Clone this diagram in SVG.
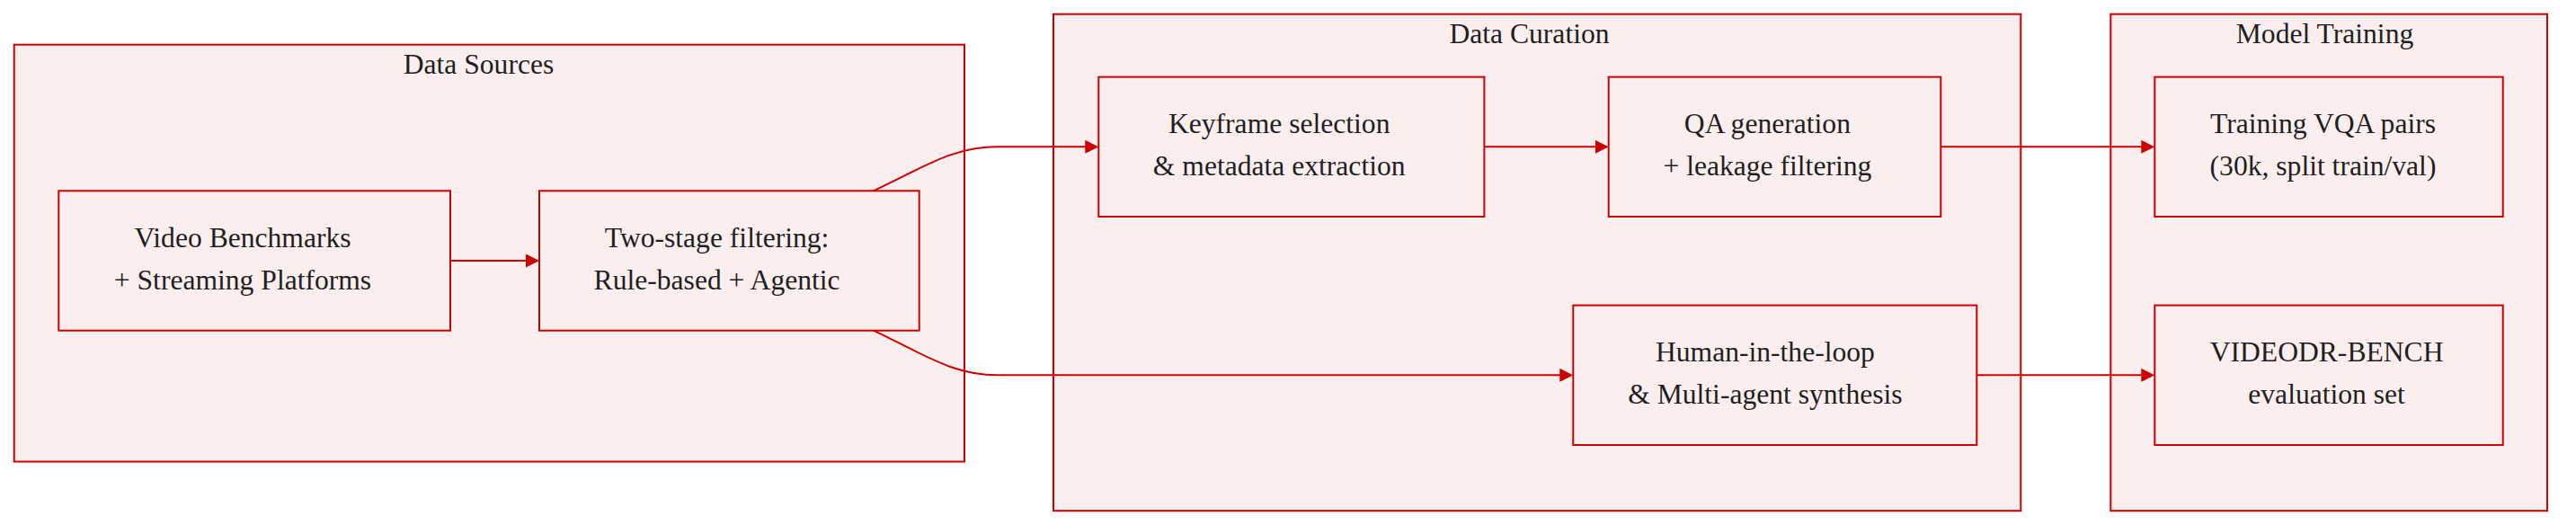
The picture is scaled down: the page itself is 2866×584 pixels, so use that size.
<svg xmlns="http://www.w3.org/2000/svg" width="2866" height="584" viewBox="0 0 2866 584">
<style>
.cluster rect{fill:#fbeeee;stroke:#cc0000;stroke-width:2}
.node rect{fill:#fbeeee;stroke:#cc0000;stroke-width:2}
text{font-family:"Liberation Serif","Times New Roman",serif;font-size:31.6px;fill:#1f1f1f;text-anchor:middle}
.edge{fill:none;stroke:#cc0000;stroke-width:2}
</style>
<defs>
<marker id="arrow" viewBox="0 0 10 10" refX="5" refY="5" markerUnits="userSpaceOnUse" markerWidth="15" markerHeight="15" orient="auto">
<path d="M0,0 L10,5 L0,10 z" fill="#cc0000"/>
</marker>
</defs>
<g id="clusters">
<g id="cluster-sources" class="cluster">
<rect x="15.7" y="49.7" width="1057.3" height="463.8"/>
<text x="532.5" y="82.3">Data Sources</text>
</g>
<g id="cluster-curation" class="cluster">
<rect x="1172" y="15.7" width="1076.3" height="552.5"/>
<text x="1701.5" y="48.3">Data Curation</text>
</g>
<g id="cluster-training" class="cluster">
<rect x="2348.3" y="15.7" width="485.7" height="552.5"/>
<text x="2586.5" y="48.3">Model Training</text>
</g>
</g>
<g id="connectors">
<path class="edge" d="M501,290 L592.5,290" marker-end="url(#arrow)"/>
<path class="edge" d="M971.7,212.3 C1030,185 1060,163.3 1110,163.3 L1214.8,163.3" marker-end="url(#arrow)"/>
<path class="edge" d="M971.7,367.7 C1030,395 1060,417.3 1110,417.3 L1742.8,417.3" marker-end="url(#arrow)"/>
<path class="edge" d="M1651.4,163.3 L1782.2,163.3" marker-end="url(#arrow)"/>
<path class="edge" d="M2159.3,163.3 L2389.8,163.3" marker-end="url(#arrow)"/>
<path class="edge" d="M2199.3,417.3 L2389.8,417.3" marker-end="url(#arrow)"/>
</g>
<g id="node-video" class="node">
<rect x="65.3" y="212.3" width="435.7" height="155.4"/>
<text x="270" y="275">Video Benchmarks</text>
<text x="270" y="321.7">+ Streaming Platforms</text>
</g>
<g id="node-filter" class="node">
<rect x="600" y="212.3" width="422.7" height="155.4"/>
<text x="797.6" y="275">Two-stage filtering:</text>
<text x="797.6" y="321.7">Rule-based + Agentic</text>
</g>
<g id="node-keyframe" class="node">
<rect x="1222.3" y="85.6" width="429.1" height="155.4"/>
<text x="1423.2" y="148.3">Keyframe selection</text>
<text x="1423.2" y="195">&amp; metadata extraction</text>
</g>
<g id="node-qa" class="node">
<rect x="1789.7" y="85.6" width="369.6" height="155.4"/>
<text x="1966.4" y="148.3">QA generation</text>
<text x="1966.4" y="195">+ leakage filtering</text>
</g>
<g id="node-human" class="node">
<rect x="1750.3" y="339.6" width="449" height="155.4"/>
<text x="1963.9" y="402.3">Human-in-the-loop</text>
<text x="1963.9" y="449">&amp; Multi-agent synthesis</text>
</g>
<g id="node-vqa" class="node">
<rect x="2397.3" y="85.6" width="387.4" height="155.4"/>
<text x="2584.5" y="148.3">Training VQA pairs</text>
<text x="2584.5" y="195">(30k, split train/val)</text>
</g>
<g id="node-bench" class="node">
<rect x="2397.3" y="339.6" width="387.4" height="155.4"/>
<text x="2588.6" y="402.3">VIDEODR-BENCH</text>
<text x="2588.6" y="449">evaluation set</text>
</g>
</svg>
